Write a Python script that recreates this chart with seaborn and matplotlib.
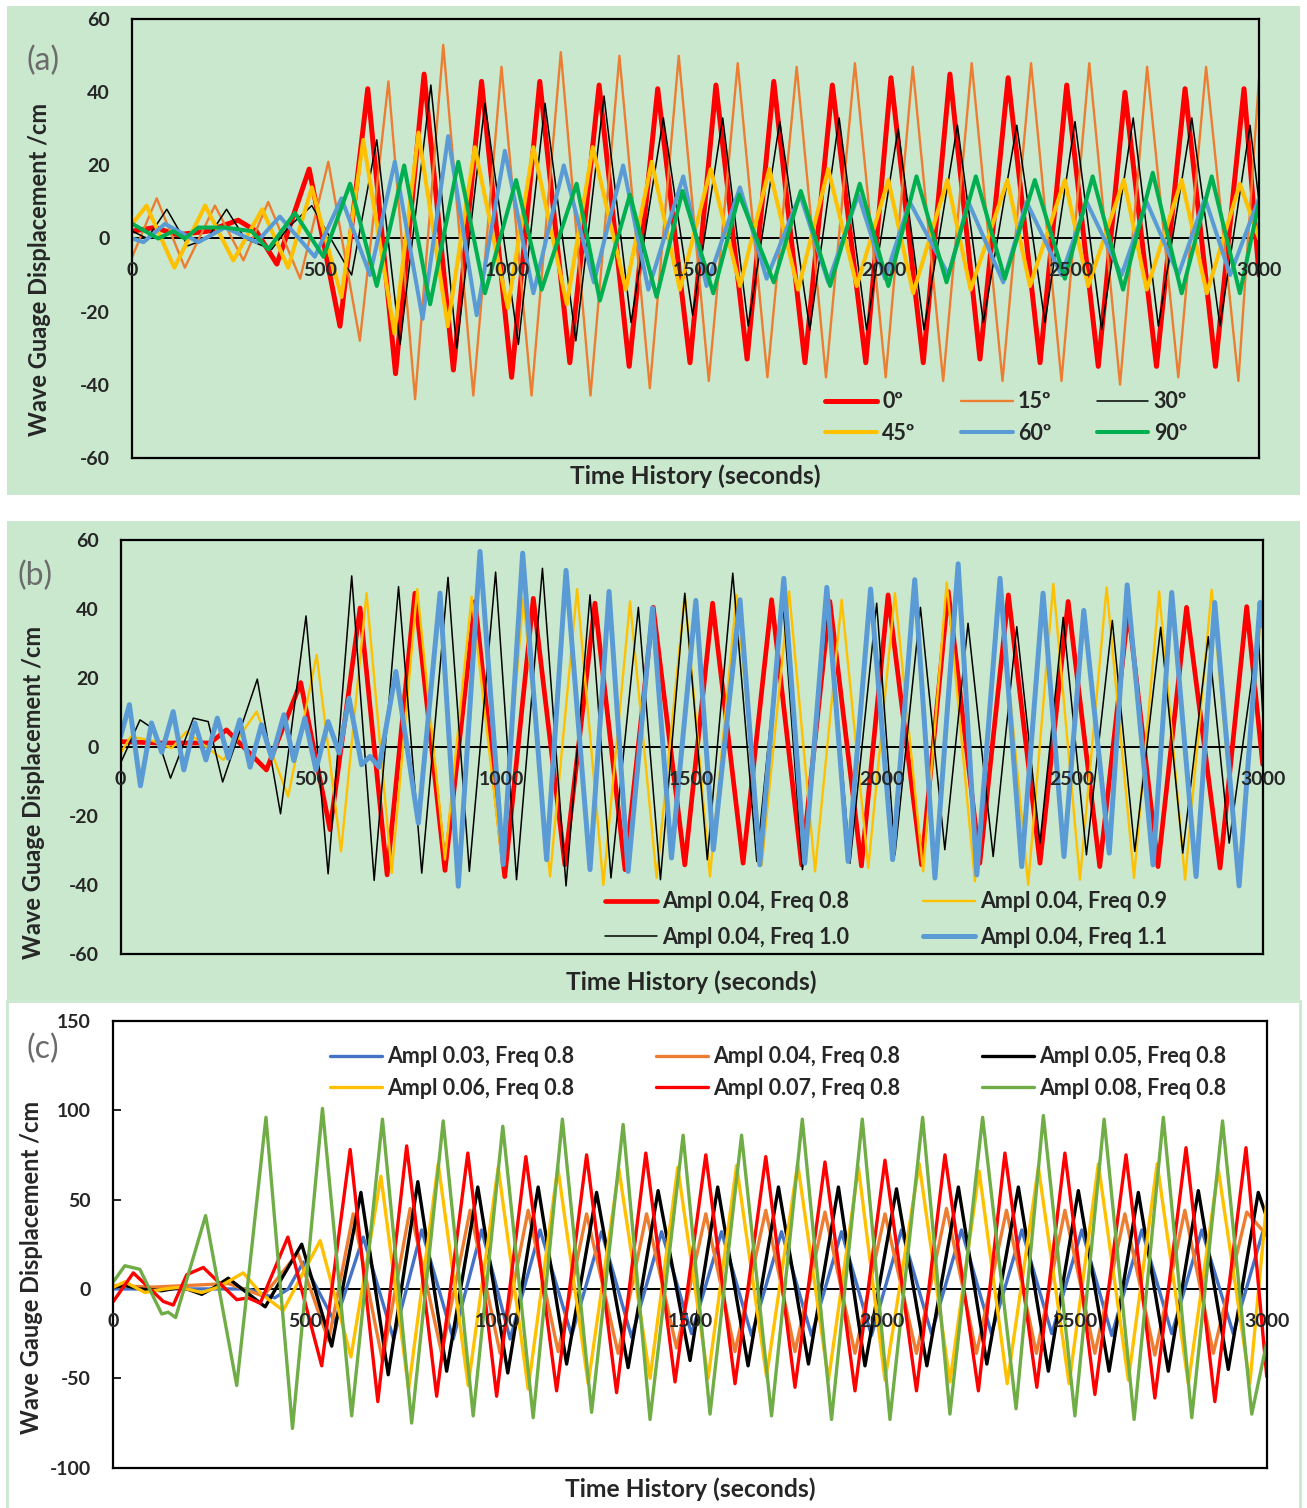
import numpy as np
import pandas as pd
import matplotlib
matplotlib.use("Agg")
import matplotlib.pyplot as plt
import seaborn as sns
from matplotlib.patches import Rectangle

sns.set_theme(style="white")
plt.rcParams["font.family"] = ["Lato", "DejaVu Sans"]
plt.rcParams["font.weight"] = "bold"

GREEN_BG = "#C9E8CE"

# ---------------- data (time s, displacement) ----------------
# panel (a): heading angle
a_labels = ["0º", "15º", "30º", "45º", "60º", "90º"]
a_deg0 = [(0, 2), (60, 3), (120, 1), (200, 2), (282, 5), (330, 2), (385, -7), (471, 19), (553, -24),
          (627, 41), (701, -37), (777, 45), (855, -36), (930, 43), (1010, -38), (1085, 43), (1165, -34),
          (1243, 42), (1323, -35), (1399, 41), (1485, -34), (1554, 42), (1637, -33), (1708, 43),
          (1791, -34), (1864, 42), (1953, -34), (2020, 44), (2106, -34), (2177, 45), (2257, -33),
          (2332, 44), (2417, -34), (2488, 42), (2572, -35), (2643, 40), (2727, -35), (2803, 41),
          (2884, -35), (2960, 41), (3000, -10)]
a_deg15 = [(0, -5), (65, 11), (140, -8), (220, 9), (296, -6), (362, 10), (447, -11), (522, 21), (606, -28),
           (682, 43), (753, -44), (828, 53), (908, -43), (983, 47), (1063, -43), (1141, 51), (1220, -43),
           (1297, 50), (1378, -41), (1455, 50), (1535, -39), (1612, 48), (1691, -38), (1769, 47),
           (1847, -38), (1924, 48), (2006, -38), (2078, 47), (2159, -39), (2235, 48), (2317, -39),
           (2393, 48), (2474, -39), (2548, 48), (2630, -40), (2702, 47), (2785, -38), (2859, 47),
           (2945, -39), (3000, 44)]
a_deg30 = [(0, 2), (40, 0), (92, 8), (148, -2), (200, 0), (251, 8), (300, 0), (371, -3), (415, 3), (478, 9),
           (584, -10), (651, 27), (713, -29), (795, 42), (864, -30), (939, 37), (1028, -29), (1099, 37),
           (1181, -28), (1256, 39), (1328, -23), (1414, 33), (1492, -21), (1572, 33), (1640, -24),
           (1724, 32), (1804, -25), (1882, 33), (1955, -25), (2039, 30), (2108, -25), (2197, 31),
           (2266, -23), (2355, 31), (2430, -23), (2510, 32), (2581, -25), (2665, 33), (2732, -24),
           (2821, 33), (2896, -24), (2976, 31), (3000, 10)]
a_deg45 = [(0, 4), (38, 9), (112, -8), (194, 9), (269, -6), (346, 8), (415, -8), (478, 14), (557, -16),
           (615, 27), (698, -26), (762, 29), (840, -24), (912, 25), (1000, -19), (1068, 25), (1157, -18),
           (1226, 25), (1314, -14), (1383, 21), (1458, -14), (1540, 19), (1618, -13), (1696, 19),
           (1773, -14), (1853, 19), (1929, -13), (2013, 16), (2079, -15), (2170, 16), (2232, -14),
           (2330, 16), (2390, -13), (2483, 16), (2545, -13), (2640, 16), (2701, -14), (2794, 16),
           (2861, -15), (2949, 15), (3000, 0)]
a_deg60 = [(0, 0), (30, -1), (87, 4), (176, -1), (247, 3), (331, -1), (393, 6), (486, -5), (557, 11),
           (633, -10), (699, 21), (773, -22), (841, 28), (917, -21), (992, 24), (1068, -15), (1149, 20),
           (1229, -12), (1307, 20), (1374, -14), (1467, 17), (1529, -13), (1618, 14), (1689, -11),
           (1778, 12), (1853, -12), (1933, 12), (2004, -11), (2070, 10), (2173, -10), (2226, 10),
           (2319, -12), (2381, 10), (2474, -10), (2541, 10), (2634, -10), (2701, 10), (2785, -10),
           (2856, 11), (2923, -10), (3000, 11)]
a_deg90 = [(0, 4), (69, 0), (109, 2), (140, 0), (176, 3), (247, 3), (318, 2), (362, -3), (433, 7),
           (509, -5), (580, 15), (651, -13), (724, 20), (793, -18), (868, 21), (939, -15), (1022, 16),
           (1090, -14), (1183, 15), (1245, -17), (1325, 12), (1396, -16), (1465, 13), (1547, -15),
           (1616, 12), (1708, -12), (1780, 13), (1858, -13), (1937, 15), (2013, -13), (2088, 17),
           (2168, -12), (2246, 17), (2323, -11), (2403, 16), (2483, -11), (2557, 17), (2638, -14),
           (2717, 18), (2794, -15), (2874, 17), (2949, -15), (3000, 10)]

# panel (b): wave frequency
b_labels = ["Ampl 0.04, Freq 0.8", "Ampl 0.04, Freq 0.9", "Ampl 0.04, Freq 1.0", "Ampl 0.04, Freq 1.1"]
b_f08 = [(0, 1.6), (100, 1.2), (235, 1.2), (278, 5), (383, -6.6), (473, 18.7), (550, -23.9), (629, 40.3),
         (700, -37), (773, 44.6), (852, -35.7), (931, 42.2), (1009, -37.5), (1084, 43.1), (1167, -34.1),
         (1246, 41.7), (1325, -35.5), (1399, 40.5), (1482, -34.1), (1555, 41.7), (1635, -33.6),
         (1710, 42.7), (1789, -34.1), (1863, 42.2), (1946, -34.4), (2016, 44.1), (2104, -34.1),
         (2174, 45.1), (2257, -33.6), (2332, 44.1), (2415, -33.6), (2489, 42.2), (2572, -34.6),
         (2647, 39.8), (2725, -34.6), (2800, 40.5), (2888, -35), (2958, 40.7), (3000, -5)]
b_f09 = [(0, -1.7), (26, 3), (80, 2), (134, -0.3), (173, 4.5), (270, -3.7), (357, 10.3), (440, -14.3),
         (515, 26.7), (579, -30.2), (646, 44.6), (712, -36.5), (779, 45.8), (852, -32.6), (922, 43.6),
         (1000, -31.7), (1058, 43.1), (1128, -37.5), (1199, 45.8), (1268, -39.9), (1338, 42.2),
         (1408, -37.9), (1482, 44.1), (1548, -37.5), (1618, 44.1), (1684, -34.1), (1756, 45.1),
         (1824, -36), (1894, 42.7), (1964, -35), (2034, 44.6), (2108, -36), (2170, 47.7), (2244, -38.9),
         (2310, 45.1), (2384, -39.9), (2450, 47.3), (2520, -38.4), (2590, 46.3), (2662, -37.9),
         (2728, 45.1), (2796, -38.4), (2866, 45.6), (2936, -39.4), (3000, 44.1)]
b_f10 = [(0, -4.6), (51, 7.9), (90, 5), (131, -9), (191, 8.4), (230, 7.4), (268, -10.1), (359, 19.7),
         (420, -19.3), (487, 38), (545, -36.7), (607, 49.6), (666, -38.6), (730, 46.5), (791, -36.5),
         (860, 49.2), (916, -36), (985, 50.7), (1040, -38.4), (1108, 51.8), (1170, -40.2), (1233, 44.1),
         (1288, -37.9), (1360, 40.5), (1418, -38.4), (1482, 44.6), (1541, -32.6), (1608, 50.4),
         (1671, -33.1), (1739, 43.1), (1791, -35.5), (1859, 42.7), (1916, -33.6), (1986, 41.7),
         (2034, -31.2), (2101, 40.5), (2165, -29.7), (2226, 35.9), (2292, -31.7), (2354, 34.9),
         (2415, -27.8), (2476, 37.6), (2537, -31.2), (2605, 36.7), (2664, -30.2), (2732, 34.7),
         (2790, -30.7), (2857, 32), (2912, -27.8), (2988, 33), (3000, 10)]
b_f11 = [(0, 3.1), (23, 12.3), (52, -11.2), (81, 7), (108, -1.5), (138, 10.3), (166, -6.6), (195, 7),
         (224, -3.7), (254, 8.4), (283, -3.2), (313, 7.9), (340, -5.8), (370, 6.5), (397, -3.2),
         (429, 9.4), (455, -3.9), (484, 8.4), (513, -6.6), (545, 7.4), (574, -1.7), (600, 14.2),
         (633, -5.1), (655, -2.7), (679, -5.8), (723, 21.9), (782, -22), (839, 44.6), (887, -40.3),
         (944, 56.7), (1005, -34), (1056, 56.2), (1119, -32.6), (1170, 51.2), (1233, -35.5),
         (1283, 45.1), (1333, -36), (1397, 40.3), (1447, -32.1), (1511, 42.5), (1557, -29.7),
         (1627, 42.7), (1679, -34.1), (1742, 48.9), (1797, -33.6), (1855, 46.3), (1911, -33.1),
         (1970, 45.8), (2028, -32.6), (2086, 48.5), (2139, -37.9), (2200, 53.1), (2249, -37),
         (2310, 48.9), (2367, -34.6), (2423, 44.6), (2478, -31.7), (2530, 39.6), (2597, -30.7),
         (2644, 47), (2712, -34.1), (2761, 44.8), (2825, -37.5), (2874, 41.9), (2938, -40.2),
         (2993, 41.9), (3000, 35)]

# panel (c): wave amplitude
c_labels = ["Ampl 0.03, Freq 0.8", "Ampl 0.04, Freq 0.8", "Ampl 0.05, Freq 0.8",
            "Ampl 0.06, Freq 0.8", "Ampl 0.07, Freq 0.8", "Ampl 0.08, Freq 0.8"]
c_a003 = [(0, 0), (200, 0), (350, 0), (420, -5), (455, 0), (494, 15), (577, -19), (650, 29), (729, -28),
          (802, 33), (884, -28), (958, 33), (1032, -28), (1110, 33), (1192, -26), (1270, 32), (1348, -27),
          (1426, 32), (1504, -25), (1582, 32), (1660, -26), (1738, 32), (1816, -26), (1894, 32),
          (1972, -26), (2050, 33), (2128, -25), (2206, 33), (2284, -25), (2363, 33), (2441, -25),
          (2519, 33), (2597, -26), (2675, 33), (2753, -25), (2831, 33), (2913, -25), (2991, 33), (3000, 30)]
c_a004 = [(0, 2), (100, 1), (200, 2), (300, 3), (390, -4), (480, 20), (560, -29), (624, 42), (700, -40),
          (772, 45), (854, -36), (928, 44), (1006, -36), (1079, 44), (1157, -35), (1231, 42), (1313, -36),
          (1387, 42), (1465, -33), (1541, 42), (1617, -35), (1697, 44), (1773, -35), (1851, 43),
          (1929, -36), (2007, 42), (2089, -36), (2167, 45), (2245, -36), (2323, 44), (2401, -36),
          (2475, 44), (2553, -36), (2631, 42), (2709, -37), (2787, 44), (2861, -36), (2948, 43), (3000, 30)]
c_a005 = [(0, 1), (30, 2), (69, 0), (126, -1), (178, 1), (230, -3), (264, 1), (299, 6), (395, -10),
          (490, 25), (568, -32), (644, 54), (715, -48), (792, 60), (867, -46), (948, 57), (1026, -47),
          (1105, 57), (1179, -42), (1257, 54), (1339, -44), (1417, 55), (1500, -40), (1572, 57),
          (1651, -43), (1730, 57), (1808, -42), (1886, 57), (1955, -43), (2037, 56), (2116, -43),
          (2198, 57), (2272, -42), (2354, 57), (2432, -46), (2510, 55), (2590, -46), (2666, 54),
          (2744, -46), (2822, 55), (2900, -45), (2978, 54), (3000, 40)]
c_a006 = [(0, 1), (30, 4), (82, -2), (134, 0), (173, 1), (230, -2), (273, 1), (338, 9), (386, -3),
          (442, -12), (538, 27), (618, -38), (696, 63), (768, -56), (845, 70), (923, -54), (1001, 68),
          (1079, -56), (1156, 68), (1235, -53), (1315, 67), (1396, -50), (1468, 68), (1547, -50),
          (1621, 69), (1699, -49), (1780, 70), (1860, -51), (1938, 68), (2007, -51), (2096, 70),
          (2176, -52), (2252, 66), (2325, -53), (2406, 68), (2486, -53), (2562, 70), (2640, -51),
          (2715, 70), (2796, -53), (2874, 67), (2956, -53), (3000, 49)]
c_a007 = [(0, -7), (52, 9), (130, -7), (156, -9), (191, 8), (234, 12), (321, -6), (351, -5), (382, -8),
          (454, 29), (542, -43), (616, 78), (688, -63), (763, 80), (841, -60), (922, 76), (997, -60),
          (1073, 74), (1153, -57), (1231, 75), (1309, -58), (1385, 76), (1461, -52), (1541, 75),
          (1617, -53), (1697, 74), (1773, -55), (1851, 71), (1929, -57), (2007, 72), (2089, -57),
          (2163, 75), (2250, -57), (2319, 76), (2402, -55), (2475, 76), (2553, -59), (2634, 75),
          (2709, -61), (2790, 79), (2865, -63), (2946, 79), (3000, -49)]
c_a008 = [(0, 4), (30, 13), (69, 11), (126, -14), (143, -13), (162, -16), (240, 41), (321, -54), (397, 96),
          (466, -78), (544, 101), (620, -71), (700, 95), (776, -75), (858, 94), (936, -71), (1013, 91),
          (1092, -72), (1168, 95), (1244, -69), (1326, 92), (1396, -73), (1482, 86), (1552, -70),
          (1634, 86), (1712, -71), (1792, 95), (1868, -73), (1948, 95), (2020, -73), (2105, 96),
          (2176, -70), (2261, 96), (2348, -67), (2419, 97), (2501, -71), (2577, 95), (2655, -73),
          (2731, 96), (2805, -72), (2885, 94), (2961, -70), (3000, -30)]

x_ticks = [0, 500, 1000, 1500, 2000, 2500, 3000]

# ---------------- figure ----------------
fig = plt.figure(figsize=(13.07, 15.08), dpi=100)
fig.add_artist(Rectangle((0.0054, 0.6718), 0.9893, 0.3243, transform=fig.transFigure,
                         facecolor=GREEN_BG, edgecolor="none", zorder=0))
fig.add_artist(Rectangle((0.0054, 0.3369), 0.9893, 0.3176, transform=fig.transFigure,
                         facecolor=GREEN_BG, edgecolor="none", zorder=0))
fig.add_artist(Rectangle((0.0054, -0.01), 0.9893, 0.3462, transform=fig.transFigure,
                         facecolor="white", edgecolor=GREEN_BG, linewidth=2, zorder=0))

ax_a = fig.add_axes([0.1012, 0.6965, 0.8621, 0.2907])
ax_b = fig.add_axes([0.0923, 0.3672, 0.8738, 0.2747])
ax_c = fig.add_axes([0.0867, 0.0267, 0.8825, 0.2964])


def draw_panel(ax, series, labels, colors, widths, ylim, yticks, face, ylabel, ylab_pos, xlab_y, ticks_in):
    ax.set_facecolor(face)
    ax.axhline(0, color="black", linewidth=1.4, zorder=1)
    for pts, lab, col, lw in zip(series, labels, colors, widths):
        df = pd.DataFrame(pts, columns=["t", "v"])
        sns.lineplot(data=df, x="t", y="v", color=col, linewidth=lw, label=lab, ax=ax, zorder=2)
    ax.set_xlim(0, 3000)
    ax.set_ylim(*ylim)
    ax.set_yticks(yticks)
    ax.set_yticklabels([str(v) for v in yticks], fontsize=14, fontweight="bold")
    ax.set_xticks(x_ticks)
    ax.set_xticklabels([])
    ax.tick_params(axis="x", length=0)
    if ticks_in:
        ax.tick_params(axis="y", direction="in", length=6, width=1.2, pad=16, color="black", left=True)
    else:
        ax.tick_params(axis="y", length=0, pad=16)
    for tk in x_ticks:
        ax.annotate(str(tk), xy=(tk, 0), xytext=(0, -17), textcoords="offset points",
                    ha="center", va="top", fontsize=14, fontweight="bold", zorder=5)
    for sp in ax.spines.values():
        sp.set_color("black")
        sp.set_linewidth(1.6)
        sp.set_visible(True)
    ax.set_xlabel("Time History (seconds)", fontsize=17.7, fontweight="bold")
    ax.xaxis.set_label_coords(0.5, xlab_y)
    ax.xaxis.label.set_verticalalignment("center")
    ax.set_ylabel(ylabel, fontsize=17, fontweight="bold")
    ax.yaxis.set_label_coords(*ylab_pos)
    ax.yaxis.label.set_verticalalignment("center")


def add_legend(ax, order, ncol, anchor, colspacing, labelspacing):
    h, l = ax.get_legend_handles_labels()
    ax.legend([h[i] for i in order], [l[i] for i in order], ncol=ncol, loc="upper left",
              bbox_to_anchor=anchor, frameon=False, borderpad=0, borderaxespad=0,
              handlelength=2.4, handletextpad=0.25, columnspacing=colspacing,
              labelspacing=labelspacing, prop={"size": 15.5, "weight": "bold"})


# panel (a)
a_series = [a_deg0, a_deg15, a_deg30, a_deg45, a_deg60, a_deg90]
a_colors = ["#FF0000", "#ED7D31", "#000000", "#FFC000", "#5B9BD5", "#00B050"]
a_widths = [3.6, 1.7, 1.1, 2.9, 2.9, 2.9]
draw_panel(ax_a, a_series, a_labels, a_colors, a_widths, (-60, 60), list(range(-60, 61, 20)),
           GREEN_BG, "Wave Guage Displacement /cm", (-0.082, 0.43), -0.042, False)
add_legend(ax_a, [0, 3, 1, 4, 2, 5], 3, (0.615, 0.152), 2.1, 0.49)

# panel (b)
b_series = [b_f08, b_f09, b_f10, b_f11]
b_colors = ["#FF0000", "#FFC000", "#000000", "#5B9BD5"]
b_widths = [3.4, 1.7, 1.1, 3.6]
draw_panel(ax_b, b_series, b_labels, b_colors, b_widths, (-60, 60), list(range(-60, 61, 20)),
           GREEN_BG, "Wave Guage Displacement /cm", (-0.076, 0.39), -0.067, False)
add_legend(ax_b, [0, 2, 1, 3], 2, (0.424, 0.152), 3.45, 0.67)

# panel (c)
c_series = [c_a003, c_a004, c_a005, c_a006, c_a007, c_a008]
c_colors = ["#4472C4", "#ED7D31", "#000000", "#FFC000", "#FF0000", "#70AD47"]
c_widths = [2.4] * 6
draw_panel(ax_c, c_series, c_labels, c_colors, c_widths, (-100, 150), list(range(-100, 151, 50)),
           "white", "Wave Gauge Displacement /cm", (-0.071, 0.448), -0.048, True)
add_legend(ax_c, [0, 3, 1, 4, 2, 5], 3, (0.188, 0.943), 3.8, 0.49)

# panel letters
for x, y, txt in [(0.033, 0.9596, "(a)"), (0.027, 0.618, "(b)"), (0.033, 0.3044, "(c)")]:
    fig.text(x, y, txt, fontsize=23, fontweight="normal", color="#6B6B6B", ha="center", va="center")

fig.savefig("out.png", dpi=100)
